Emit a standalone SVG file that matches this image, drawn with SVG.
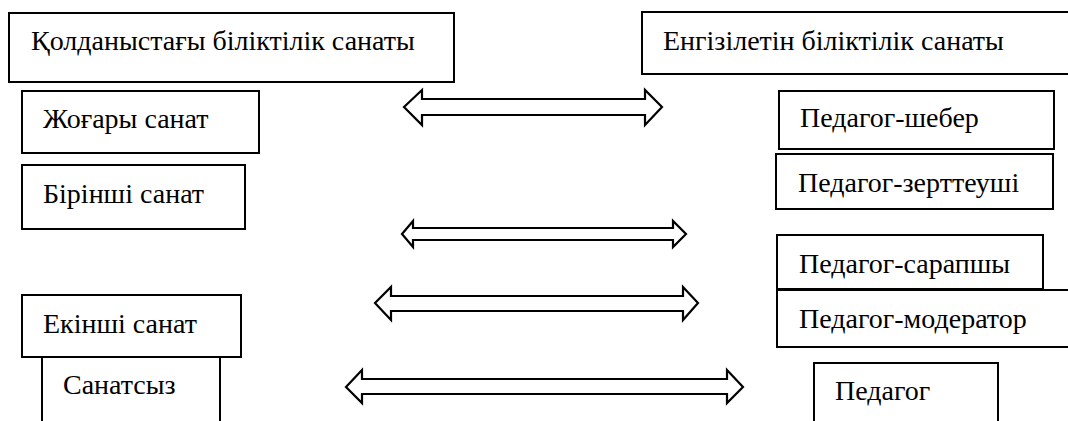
<svg xmlns="http://www.w3.org/2000/svg" width="1068" height="421" viewBox="0 0 1068 421" font-family="Times New Roman, serif" font-size="28">
<rect width="1068" height="421" fill="#fff"/>
<g id="connectors" fill="#fff" stroke="#000" stroke-width="2.2">
<path d="M404,107 L422,90 L422,99 L645,99 L645,90 L662,107 L645,125 L645,115 L422,115 L422,125 Z"/>
<path d="M402,234 L413,221 L413,228 L673,228 L673,221 L686,234 L673,247 L673,240 L413,240 L413,247 Z"/>
<path d="M375,303 L391,287 L391,296 L683,296 L683,287 L698,303 L683,320 L683,311 L391,311 L391,320 Z"/>
<path d="M346,387 L362,370 L362,379 L727,379 L727,370 L743,387 L727,403 L727,394 L362,394 L362,403 Z"/>
</g>
<g id="n-current"><rect x="9" y="13" width="445" height="69" fill="#fff" stroke="#000" stroke-width="2"/><text x="31" y="50">Қолданыстағы біліктілік санаты</text></g>
<g id="n-new"><rect x="642" y="12" width="430" height="62" fill="#fff" stroke="#000" stroke-width="2"/><text x="663" y="50">Енгізілетін біліктілік санаты</text></g>
<g id="n-high"><rect x="22" y="91" width="237" height="62" fill="#fff" stroke="#000" stroke-width="2"/><text x="43" y="128">Жоғары санат</text></g>
<g id="n-first"><rect x="22" y="165" width="223" height="64" fill="#fff" stroke="#000" stroke-width="2"/><text x="43" y="203">Бірінші санат</text></g>
<g id="n-nocat"><rect x="42" y="357" width="178" height="80" fill="#fff" stroke="#000" stroke-width="2"/><text x="63" y="394">Санатсыз</text></g>
<g id="n-second"><rect x="22" y="295" width="219" height="62" fill="#fff" stroke="#000" stroke-width="2"/><text x="43" y="333">Екінші санат</text></g>
<g id="n-master"><rect x="779" y="91" width="275" height="58" fill="#fff" stroke="#000" stroke-width="2"/><text x="800" y="127">Педагог-шебер</text></g>
<g id="n-research"><rect x="776" y="154" width="277" height="55" fill="#fff" stroke="#000" stroke-width="2"/><text x="798" y="192">Педагог-зерттеуші</text></g>
<g id="n-expert"><rect x="777" y="235" width="266" height="54" fill="#fff" stroke="#000" stroke-width="2"/><text x="799" y="273">Педагог-сарапшы</text></g>
<g id="n-moderator"><rect x="777" y="290" width="300" height="57" fill="#fff" stroke="#000" stroke-width="2"/><text x="799" y="328">Педагог-модератор</text></g>
<g id="n-teacher"><rect x="814" y="363" width="184" height="80" fill="#fff" stroke="#000" stroke-width="2"/><text x="835" y="400">Педагог</text></g>
</svg>
